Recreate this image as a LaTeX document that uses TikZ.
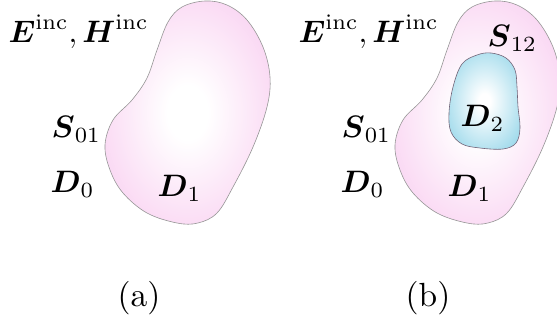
\documentclass[tikz,border=0pt]{standalone}
\usepackage{amsmath,amssymb}
\usepackage{xcolor}
\usepackage{tikz}

\definecolor{blobpink}{RGB}{246,186,234}
\definecolor{blobblue}{RGB}{124,204,228}
\definecolor{rimgray}{RGB}{150,150,150}
\definecolor{rimdark}{RGB}{115,100,120}

\pgfdeclareradialshading{pinkglow}{\pgfpoint{0bp}{0bp}}{%
  color(0bp)=(white); color(6bp)=(white); color(44bp)=(blobpink); color(50bp)=(blobpink)}
\pgfdeclareradialshading{blueglow}{\pgfpoint{0bp}{0bp}}{%
  color(0bp)=(white); color(4bp)=(white); color(40bp)=(blobblue); color(50bp)=(blobblue)}

\begin{document}
\begin{tikzpicture}[
  x=1pt, y=-1pt,
  lbl/.style={font=\fontsize{10}{12}\selectfont, scale=3.1, transform shape,
              inner sep=0pt, anchor=base west},
  sublabel/.style={font=\fontsize{10}{12}\selectfont, scale=3.35, transform shape,
              inner sep=0pt},
  pinkblob/.style={draw=rimgray, line width=0.6pt, shading=pinkglow},
  blueblob/.style={draw=rimdark, line width=0.6pt, shading=blueglow}
]
\useasboundingbox (0,0) rectangle (557,331);

% (a) single region
\path[pinkblob] plot[smooth cycle, tension=0.6] coordinates {
  (205,1) (227,5) (247,20) (263,47) (270,77) (267,107) (253,147) (233,187)
  (217,213) (198,223) (177,223) (147,213) (123,193) (110,170) (105,145)
  (113,120) (132,100) (147,78) (157,50) (168,22) (182,7)};
\node[lbl] (inca) at (8,43) {$\boldsymbol{E}^{\mathrm{inc}}, \boldsymbol{H}^{\mathrm{inc}}$};
\node[lbl] (s01a) at (51,138) {$\boldsymbol{S}_{01}$};
\node[lbl] (d0a) at (50,193) {$\boldsymbol{D}_{0}$};
\node[lbl] (d1a) at (157,197) {$\boldsymbol{D}_{1}$};
\node[sublabel] (capa) at (139,298) {(a)};

% (b) region with inclusion
\begin{scope}[xshift=290pt]
\path[pinkblob] plot[smooth cycle, tension=0.6] coordinates {
  (205,1) (227,5) (247,20) (263,47) (270,77) (267,107) (253,147) (233,187)
  (217,213) (198,223) (177,223) (147,213) (123,193) (110,170) (105,145)
  (113,120) (132,100) (147,78) (157,50) (168,22) (182,7)};
\path[blueblob] plot[smooth cycle, tension=0.6] coordinates {
  (187,55) (172,64) (163,87) (159,113) (161,132) (172,144) (190,148)
  (213,149) (226,143) (230,128) (228,107) (227,87) (225,70) (216,58) (201,53)};
\node[lbl] (incb) at (8,43) {$\boldsymbol{E}^{\mathrm{inc}}, \boldsymbol{H}^{\mathrm{inc}}$};
\node[lbl] (s12b) at (197,47) {$\boldsymbol{S}_{12}$};
\node[lbl] (d2b) at (170,127) {$\boldsymbol{D}_{2}$};
\node[lbl] (s01b) at (51,138) {$\boldsymbol{S}_{01}$};
\node[lbl] (d0b) at (50,193) {$\boldsymbol{D}_{0}$};
\node[lbl] (d1b) at (157,197) {$\boldsymbol{D}_{1}$};
\node[sublabel] (capb) at (138,298) {(b)};
\end{scope}
\end{tikzpicture}
\end{document}
